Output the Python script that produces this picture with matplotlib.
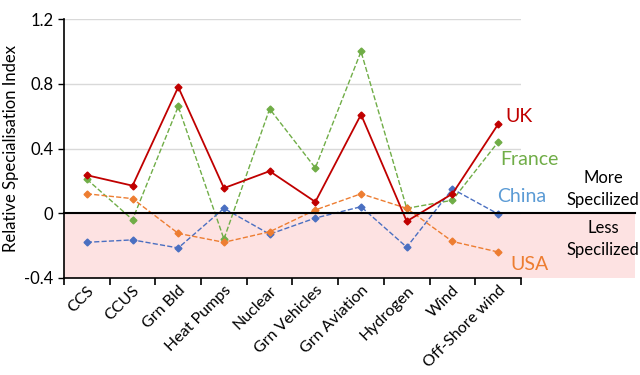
import numpy as np
import matplotlib
matplotlib.use("Agg")
from matplotlib import pyplot as plt
from matplotlib.patches import Rectangle

plt.rcParams['font.family'] = ['Lato', 'DejaVu Sans']

categories = ['CCS', 'CCUS', 'Grn Bld', 'Heat Pumps', 'Nuclear', 'Grn Vehicles',
              'Grn Aviation', 'Hydrogen', 'Wind', 'Off-Shore wind']
uk = [0.235, 0.17, 0.78, 0.155, 0.26, 0.07, 0.61, -0.05, 0.12, 0.55]
france = [0.21, -0.04, 0.66, -0.16, 0.645, 0.28, 1.0, 0.03, 0.08, 0.44]
china = [-0.18, -0.165, -0.215, 0.03, -0.13, -0.03, 0.04, -0.21, 0.15, -0.005]
usa = [0.12, 0.09, -0.125, -0.18, -0.115, 0.02, 0.12, 0.03, -0.175, -0.24]

fig = plt.figure(figsize=(6.4, 3.75), dpi=100)
ax = fig.add_axes([0.1, 0.259, 0.714, 0.69])

x = np.arange(len(categories))

# band for "less specialized"
band = Rectangle((-0.5, -0.4), 12.5, 0.4, facecolor='#fde2e2', edgecolor='none',
                 zorder=0, clip_on=False)
ax.add_patch(band)

ax.plot(x, france, color='#70ad47', ls='--', lw=1, marker='D', ms=3.5, zorder=3)
ax.plot(x, china, color='#4a6fc1', ls='--', lw=1, marker='D', ms=3.5, zorder=3)
ax.plot(x, usa, color='#ed7d31', ls='--', lw=1, marker='D', ms=3.5, zorder=3)
ax.plot(x, uk, color='#c00000', ls='-', lw=1.3, marker='D', ms=3.5, zorder=4)

ax.plot([-0.5, 12.0], [0, 0], color='black', lw=1.5, clip_on=False, zorder=5)

ax.set_xlim(-0.5, 9.5)
ax.set_ylim(-0.4, 1.2)
ax.set_yticks([-0.4, 0, 0.4, 0.8, 1.2])
ax.set_yticklabels(['-0.4', '0', '0.4', '0.8', '1.2'], fontsize=12)
ax.yaxis.grid(True, color='#d9d9d9', lw=1)
ax.set_axisbelow(True)

ax.set_xticks(np.arange(-0.5, 10, 1))
ax.set_xticklabels([])
ax.set_xticks(x, minor=True)
ax.set_xticklabels(categories, minor=True, rotation=45, ha='right',
                   rotation_mode='anchor', fontsize=11.5)
ax.tick_params(axis='x', which='minor', length=0, pad=4)
ax.tick_params(axis='x', which='major', length=5, width=1.2, direction='out')
ax.tick_params(axis='y', length=4, width=1, direction='out')

for s in ['top', 'right']:
    ax.spines[s].set_visible(False)
ax.spines['left'].set_linewidth(1.2)
ax.spines['bottom'].set_linewidth(1.2)

ax.set_ylabel('Relative Specialisation Index', fontsize=12)

ax.text(9.15, 0.60, 'UK', color='#c00000', fontsize=14, va='center')
ax.text(9.04, 0.33, 'France', color='#70ad47', fontsize=14, va='center')
ax.text(8.97, 0.105, 'China', color='#5b9bd5', fontsize=14, va='center')
ax.text(9.26, -0.32, 'USA', color='#ed7d31', fontsize=14, va='center')
ax.text(11.3, 0.15, 'More\nSpecilized', color='black', fontsize=12,
        ha='center', va='center', linespacing=1.45)
ax.text(11.3, -0.16, 'Less\nSpecilized', color='black', fontsize=12,
        ha='center', va='center', linespacing=1.45)

fig.savefig('out.png', dpi=100)
